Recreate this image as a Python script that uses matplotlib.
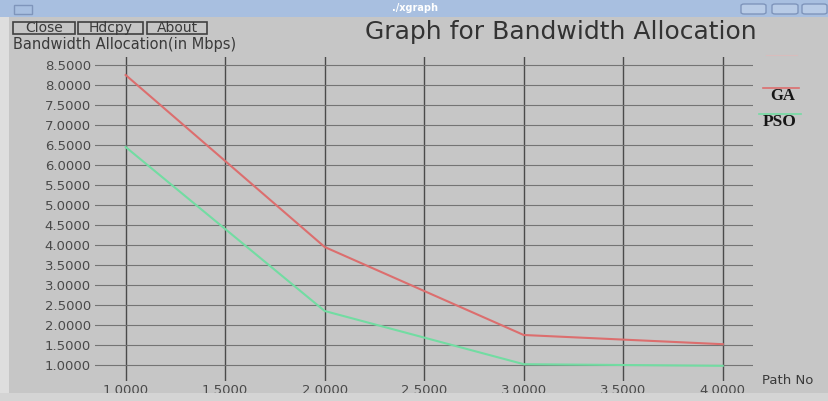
import numpy as np
import matplotlib.pyplot as plt
from matplotlib.patches import Rectangle, FancyBboxPatch

# data
path_no = [1.0, 2.0, 3.0, 4.0]
ga_bw = [8.25, 3.95, 1.75, 1.52]
pso_bw = [6.45, 2.35, 1.02, 0.98]
xticks = [1.0, 1.5, 2.0, 2.5, 3.0, 3.5, 4.0]
yticks = [1.0, 1.5, 2.0, 2.5, 3.0, 3.5, 4.0, 4.5, 5.0, 5.5, 6.0, 6.5, 7.0, 7.5, 8.0, 8.5]

W, H = 829, 401
bg = '#c6c6c6'
fig = plt.figure(figsize=(W / 100, H / 100), dpi=100, facecolor=bg)

def fx(px):
    return px / W

def fy(py):
    return 1 - py / H

# window frame: title bar, left edge, bottom edge
fig.patches.append(Rectangle((0, fy(17)), 1, 17 / H, transform=fig.transFigure,
                             facecolor='#a8bfe0', edgecolor='none', zorder=0))
fig.patches.append(Rectangle((0, 0), fx(9), fy(17), transform=fig.transFigure,
                             facecolor='#dedede', edgecolor='none', zorder=0))
fig.patches.append(Rectangle((0, 0), 1, 8 / H, transform=fig.transFigure,
                             facecolor='#d4d4d4', edgecolor='none', zorder=0))
fig.patches.append(Rectangle((fx(14), fy(14)), fx(18), 9 / H, transform=fig.transFigure,
                             facecolor='none', edgecolor='#7f95bb', lw=1, zorder=1))
for x0, x1 in [(741, 766), (772, 798), (802, 827)]:
    fig.patches.append(FancyBboxPatch((fx(x0), fy(14)), fx(x1 - x0), 10 / H,
                                      boxstyle='round,pad=0,rounding_size=0.004',
                                      transform=fig.transFigure, facecolor='#b8cbe6',
                                      edgecolor='#7f95bb', lw=1, zorder=1))
fig.text(fx(415), fy(8), './xgraph', color='white', fontsize=7, weight='bold',
         ha='center', va='center')

# buttons
for label, x0, x1 in [('Close', 13, 75), ('Hdcpy', 78, 143), ('About', 147, 207)]:
    fig.patches.append(Rectangle((fx(x0), fy(34)), fx(x1 - x0), 12 / H,
                                 transform=fig.transFigure, facecolor=bg,
                                 edgecolor='#404040', lw=1.2, zorder=1))
    fig.text(fx((x0 + x1) / 2), fy(28), label, fontsize=10, color='#3a3a3a',
             ha='center', va='center')

fig.text(fx(13), fy(44), 'Bandwidth Allocation(in Mbps)', fontsize=10.5, color='#3a3a3a',
         ha='left', va='center')
fig.text(fx(561), fy(32), 'Graph for Bandwidth Allocation', fontsize=18, color='#333333',
         ha='center', va='center')

# plot area
ax = fig.add_axes([fx(95), 20 / H, fx(658), 324 / H])
ax.set_facecolor(bg)
ax.set_xlim(0.846, 4.152)
ax.set_ylim(0.6, 8.7)
ax.set_xticks(xticks)
ax.set_yticks(yticks)
ax.set_xticklabels(['%.4f' % v for v in xticks])
ax.set_yticklabels(['%.4f' % v for v in yticks])
ax.tick_params(length=0, labelsize=9.5, labelcolor='#4a4a4a')
ax.tick_params(axis='y', pad=3)
ax.tick_params(axis='x', pad=2)
for s in ax.spines.values():
    s.set_visible(False)
ax.grid(axis='x', color='#4a4a4a', lw=1.0)
ax.grid(axis='y', color='#747474', lw=0.8)
ax.set_axisbelow(True)

ax.plot(path_no, ga_bw, color='#dc6e6e', lw=1.5)
ax.plot(path_no, pso_bw, color='#72dca2', lw=1.5)

# legend as drawn by xgraph
fig.lines.append(plt.Line2D([fx(763), fx(799)], [fy(88), fy(88)], transform=fig.transFigure,
                            color='#dc6e6e', lw=1.2))
fig.text(fx(783), fy(96), 'GA', fontsize=12, weight='bold', family='Liberation Serif',
         color='#161616', ha='center', va='center')
fig.lines.append(plt.Line2D([fx(759), fx(801)], [fy(114), fy(114)], transform=fig.transFigure,
                            color='#72dca2', lw=1.2))
fig.text(fx(780), fy(122), 'PSO', fontsize=12.5, weight='bold', family='Liberation Serif',
         color='#161616', ha='center', va='center')
fig.lines.append(plt.Line2D([fx(766), fx(797)], [fy(55), fy(55)], transform=fig.transFigure,
                            color='#d8bcbc', lw=0.8))

fig.text(fx(762), fy(380), 'Path No', fontsize=9.5, color='#3a3a3a', ha='left', va='center')

fig.savefig('out.png', dpi=100, facecolor=bg)
